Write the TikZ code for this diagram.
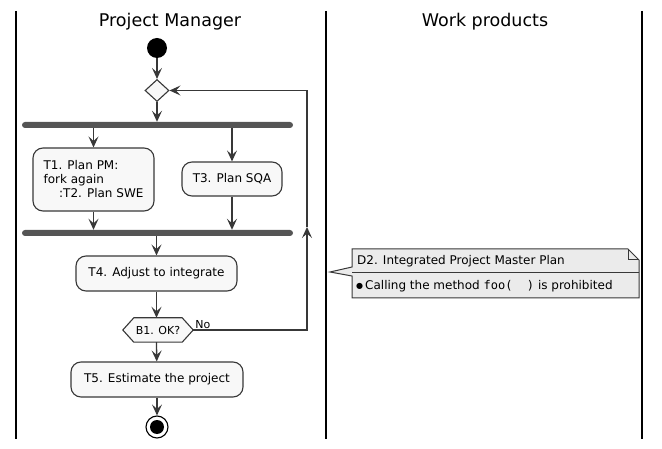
\documentclass[tikz,border=0pt]{standalone}
\usepackage{fontspec}
\setmainfont{DejaVu Sans}
\setmonofont{DejaVu Sans Mono}
\usetikzlibrary{arrows.meta,shapes.geometric}
\definecolor{lineC}{HTML}{383838}
\definecolor{boxF}{HTML}{F8F8F8}
\definecolor{barC}{HTML}{555555}
\definecolor{noteF}{HTML}{EBEBEB}
\tikzset{
  flow/.style={draw=lineC,line width=1.3pt,-{Stealth[length=11pt,width=10pt,inset=4.5pt]}},
  act/.style={draw=lineC,fill=boxF,line width=1.1pt,rounded corners=10pt,inner sep=0pt,font=\fontsize{12}{14}\selectfont},
  bar/.style={fill=barC,draw=none,rounded corners=3pt,minimum width=271pt,minimum height=6pt,inner sep=0pt},
  lane/.style={line width=1.8pt,black},
  title/.style={font=\fontsize{17.5}{20}\selectfont},
}
\begin{document}
\begin{tikzpicture}[x=1pt,y=-1pt]
\useasboundingbox (0,0) rectangle (662,449);
% lanes
\draw[lane] (16,11) -- (16,439);
\draw[lane] (326,11) -- (326,439);
\draw[lane] (642,11) -- (642,439);
\node[title] (t1) at (170,22) {Project Manager};
\node[title] (t2) at (485,22) {Work products};
% nodes
\node[circle,fill=black,minimum size=20pt,inner sep=0pt] (start) at (157,48) {};
\node[diamond,draw=lineC,fill=boxF,line width=1.1pt,minimum width=24pt,minimum height=22pt,inner sep=0pt] (merge) at (157,90.5) {};
\node[bar] (fork) at (157.5,125) {};
\node[act,minimum width=121pt,minimum height=63pt,align=left] (T1) at (93.5,179.5) {T1. Plan PM:\\fork again\\\hspace*{1.3em}:T2. Plan SWE};
\node[act,minimum width=100pt,minimum height=34pt] (T3) at (232,179) {T3. Plan SQA};
\node[bar] (join) at (157.5,233) {};
\node[act,minimum width=161pt,minimum height=35pt] (T4) at (156.5,273.5) {T4. Adjust to integrate};
\node[minimum width=70pt,minimum height=24pt,inner sep=0pt,font=\fontsize{11}{13}\selectfont] (B1) at (158,330) {B1. OK?};
\draw[draw=lineC,fill=boxF,line width=1.1pt] (B1.west) -- ([xshift=11pt]B1.north west) -- ([xshift=-11pt]B1.north east) -- (B1.east) -- ([xshift=-11pt]B1.south east) -- ([xshift=11pt]B1.south west) -- cycle;
\node[font=\fontsize{11}{13}\selectfont] at (158,330) {B1. OK?};
\node[act,minimum width=172pt,minimum height=35pt] (T5) at (157,379.5) {T5. Estimate the project};
\node[circle,draw=black,fill=white,line width=1.1pt,minimum size=22pt,inner sep=0pt] (end) at (157,427) {};
\fill[black] (end.center) circle (7pt);
% connectors
\draw[flow] (start) -- (merge);
\draw[flow] (merge) -- (merge|-fork.north);
\draw[flow] (T1|-fork.south) -- (T1);
\draw[flow] (T3|-fork.south) -- (T3);
\draw[flow] (T1) -- (T1|-join.north);
\draw[flow] (T3) -- (T3|-join.north);
\draw[flow] (join.south-|T4) -- (T4);
\draw[flow] (T4) -- (B1.north-|T4);
\draw[flow] (B1.south-|T4) -- (T5);
\draw[flow] (T5) -- (end);
\coordinate (loopB) at (307,330);
\coordinate (loopM) at (307,227);
\coordinate (loopT) at (307,90.5);
\draw[flow] (B1.east) -- (loopB) -- (loopM);
\draw[flow] (loopM) -- (loopT) -- (merge.east);
\node[font=\fontsize{11}{13}\selectfont,anchor=south west,inner sep=1pt] (no) at ([xshift=1pt]B1.east) {No};
% note
\coordinate (tip) at (330,272);
\draw[draw=lineC,fill=noteF,line width=1pt] (352,249) -- (628,249) -- (639,260) -- (639,298) -- (352,298) -- (352,276) -- (tip) -- (352,267) -- cycle;
\draw[draw=lineC,line width=1pt] (628,249) -- (628,260) -- (639,260);
\draw[draw=lineC,line width=1pt] (352,273) -- (639,273);
\node[anchor=west,inner sep=0pt,font=\fontsize{12}{14}\selectfont] (n1) at (357,261.5) {D2. Integrated Project Master Plan};
\node[anchor=west,inner sep=0pt,font=\fontsize{12}{14}\selectfont] (n2) at (356,286) {\raisebox{0.5pt}{\fontsize{8}{8}\selectfont●}\,Calling the method {\ttfamily foo(\ \ )} is prohibited};
\end{tikzpicture}
\end{document}
